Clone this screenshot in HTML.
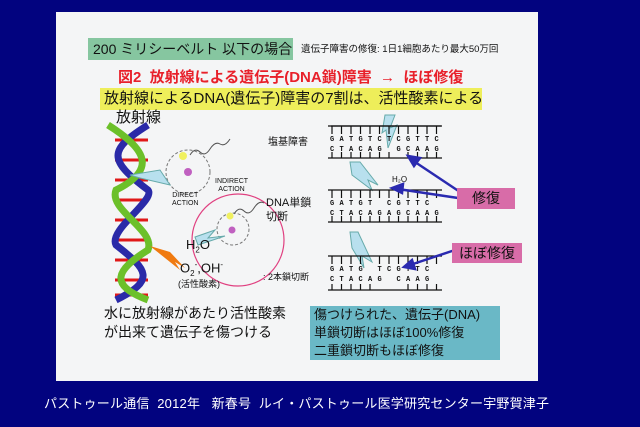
<!DOCTYPE html>
<html><head><meta charset="utf-8"><style>
body{margin:0;width:640px;height:427px;background:#02037f;overflow:hidden;position:relative;font-family:"Liberation Sans","Noto Sans CJK JP",sans-serif}
.a{position:absolute;white-space:nowrap}
</style></head><body>
<div class="a" style="left:56px;top:12px;width:482px;height:369px;background:#f4f5f6"></div>
<div class="a" style="left:88px;top:38px;width:205px;height:22px;background:#86c6a0;font-size:14px;line-height:22px;padding-left:5px;box-sizing:border-box;color:#111">200 ミリシーベルト 以下の場合</div>
<div class="a" style="left:301px;top:41px;font-size:9.5px;color:#111">遺伝子障害の修復: 1日1細胞あたり最大50万回</div>
<div class="a" style="left:118px;top:66px;font-size:15px;font-weight:bold;color:#e8202a">図2 &nbsp;放射線による遺伝子(DNA鎖)障害 &nbsp;→ &nbsp;ほぼ修復</div>
<div class="a" style="left:100px;top:88px;width:382px;height:22px;background:#eeee5a;font-size:15px;line-height:22px;padding-left:4px;box-sizing:border-box;color:#111">放射線によるDNA(遺伝子)障害の7割は、活性酸素による</div>
<div class="a" style="left:116px;top:106px;font-size:15px;color:#111">放射線</div>
<svg class="a" style="left:0;top:0" width="640" height="427">
<g stroke="#e01818" stroke-width="3">
<line x1="115" y1="140" x2="148" y2="140"/><line x1="115" y1="160" x2="148" y2="160"/><line x1="115" y1="180" x2="148" y2="180"/><line x1="115" y1="200" x2="148" y2="200"/><line x1="115" y1="220" x2="148" y2="220"/><line x1="115" y1="240" x2="148" y2="240"/><line x1="115" y1="260" x2="148" y2="260"/><line x1="115" y1="280" x2="148" y2="280"/><line x1="115" y1="295" x2="148" y2="295"/>
</g>
<path d="M148 125 C108 150,108 160,148 190 C156 200,108 230,116 245 C148 270,156 280,116 300" stroke="#2a2aa8" stroke-width="7" fill="none"/>
<path d="M108 125 C148 150,156 170,116 190 C108 210,156 230,148 250 C116 270,108 285,148 300" stroke="#6cc02a" stroke-width="7" fill="none"/>
<circle cx="238" cy="240" r="46" fill="none" stroke="#e04080" stroke-width="1.2"/>
<circle cx="188" cy="172" r="22" fill="none" stroke="#777" stroke-dasharray="3 2"/>
<circle cx="188" cy="172" r="4" fill="#c060c0"/><circle cx="183" cy="156" r="4" fill="#f0f060"/>
<circle cx="233" cy="229" r="16" fill="none" stroke="#777" stroke-dasharray="3 2"/>
<circle cx="232" cy="230" r="3.5" fill="#c060c0"/><circle cx="230" cy="216" r="3.5" fill="#f0f060"/>
<path d="M190 155 q5 -8 10 -3 t10 -3 t10 -5 t10 -5" stroke="#555" fill="none"/>
<path d="M234 214 q5 -8 10 -3 t10 -3 t10 -5" stroke="#555" fill="none"/>
<polygon points="130,175 160,170 170,185 140,178" fill="#b8e0ee" stroke="#6aa"/>
<polygon points="195,237 215,230 208,238 225,236 198,245" fill="#b8e0ee" stroke="#6aa"/>
<polygon points="150,246 180,270 175,262 185,268 170,252" fill="#f07a10"/>
<polygon points="385,115 395,115 390,128 397,125 388,148 386,130 382,133" fill="#b8e0ee" stroke="#6aa"/>
<polygon points="350,162 360,162 378,185 368,180 372,190 352,175" fill="#b8e0ee" stroke="#6aa"/>
<polygon points="350,232 358,232 372,262 362,256 364,268 352,248" fill="#b8e0ee" stroke="#6aa"/>
<g stroke="#111" stroke-width="1.2">
<line x1="328" y1="126" x2="442" y2="126"/><line x1="328" y1="158" x2="442" y2="158"/>
<line x1="328" y1="190" x2="442" y2="190"/><line x1="328" y1="222" x2="442" y2="222"/>
<line x1="328" y1="256" x2="442" y2="256"/><line x1="328" y1="290" x2="442" y2="290"/>
</g>
<g stroke="#111" stroke-width="1.3" stroke-dasharray="6 3.6">
<line x1="331" y1="126" x2="441" y2="126" stroke-dasharray="0"/>
</g>
<g stroke="#111" stroke-width="1.2">
<path d="M332 126v8M341.5 126v8M351 126v8M360.5 126v8M370 126v8M379.5 126v8M389 126v8M398.5 126v8M408 126v8M417.5 126v8M427 126v8M436.5 126v8"/>
<path d="M332 158v-6M341.5 158v-6M351 158v-6M360.5 158v-6M370 158v-6M379.5 158v-6M389 158v-6M408 158v-6M417.5 158v-6M427 158v-6M436.5 158v-6"/>
<path d="M332 190v8M341.5 190v8M351 190v8M360.5 190v8M370 190v8M379.5 190v8M389 190v8M398.5 190v8M408 190v8M417.5 190v8M427 190v8M436.5 190v8"/>
<path d="M332 222v-6M341.5 222v-6M351 222v-6M360.5 222v-6M370 222v-6M379.5 222v-6M389 222v-6M398.5 222v-6M408 222v-6M417.5 222v-6M427 222v-6M436.5 222v-6"/>
<path d="M332 256v8M341.5 256v8M351 256v8M360.5 256v8M379.5 256v8M389 256v8M398.5 256v8M408 256v8M417.5 256v8M427 256v8M436.5 256v8"/>
<path d="M332 290v-6M341.5 290v-6M351 290v-6M360.5 290v-6M370 290v-6M408 290v-6M417.5 290v-6M427 290v-6M436.5 290v-6"/>
</g>
<g font-family="Liberation Mono" font-size="7" font-weight="bold" fill="#111" letter-spacing="5.3">
<text x="330" y="141">GATGTCTCGTTC</text><text x="330" y="151">CTACAG GCAAG</text>
<text x="330" y="205">GATGT  CGTTC</text><text x="330" y="215">CTACAGAGCAAG</text>
<text x="330" y="271">GATG  TCGTTC</text><text x="330" y="281">CTACAG   CAAG</text>
</g>
<text x="392" y="182" font-size="8" fill="#111">H₂O</text>
<g stroke="#2a2ab0" stroke-width="2.5" fill="#2a2ab0">
<line x1="460" y1="192" x2="412" y2="160"/><polygon points="408,156 420,158 414,166"/>
<line x1="458" y1="198" x2="398" y2="189"/><polygon points="392,188 403,184 402,193"/>
<line x1="455" y1="250" x2="410" y2="265"/><polygon points="404,267 412,260 415,269"/>
</g>
</svg>
<div class="a" style="left:172px;top:192px;font-size:7px;line-height:8px;color:#111;text-align:center">DIRECT<br>ACTION</div>
<div class="a" style="left:215px;top:178px;font-size:7px;line-height:8px;color:#111;text-align:center">INDIRECT<br>ACTION</div>
<div class="a" style="left:186px;top:237px;font-size:13px;color:#111">H<sub style="font-size:8px">2</sub>O</div>
<div class="a" style="left:180px;top:260px;font-size:13px;color:#111">O<sub style="font-size:8px">2</sub><sup style="font-size:8px">-</sup>,OH<sup style="font-size:8px">-</sup></div>
<div class="a" style="left:178px;top:277px;font-size:9px;color:#111">(活性酸素)</div>
<div class="a" style="left:268px;top:133px;font-size:10px;color:#111">塩基障害</div>
<div class="a" style="left:266px;top:196px;font-size:11px;line-height:14px;color:#111">DNA単鎖<br>切断</div>
<div class="a" style="left:263px;top:270px;font-size:9px;color:#111">: 2本鎖切断</div>
<div class="a" style="left:457px;top:188px;width:58px;height:21px;background:#d86ca8;font-size:14px;line-height:21px;text-align:center;color:#111">修復</div>
<div class="a" style="left:452px;top:243px;width:70px;height:20px;background:#d86ca8;font-size:14px;line-height:20px;text-align:center;color:#111">ほぼ修復</div>
<div class="a" style="left:104px;top:304px;font-size:14px;line-height:19px;color:#111">水に放射線があたり活性酸素<br>が出来て遺伝子を傷つける</div>
<div class="a" style="left:310px;top:306px;width:190px;height:54px;background:#6ab8c6;font-size:13px;line-height:18px;padding-left:4px;box-sizing:border-box;color:#111">傷つけられた、遺伝子(DNA)<br>単鎖切断はほぼ100%修復<br>二重鎖切断もほぼ修復</div>
<div class="a" style="left:44px;top:393px;font-size:13px;letter-spacing:0.2px;color:#fff">パストゥール通信&nbsp; 2012年&nbsp;&nbsp; 新春号&nbsp; ルイ・パストゥール医学研究センター宇野賀津子</div>
</body></html>
